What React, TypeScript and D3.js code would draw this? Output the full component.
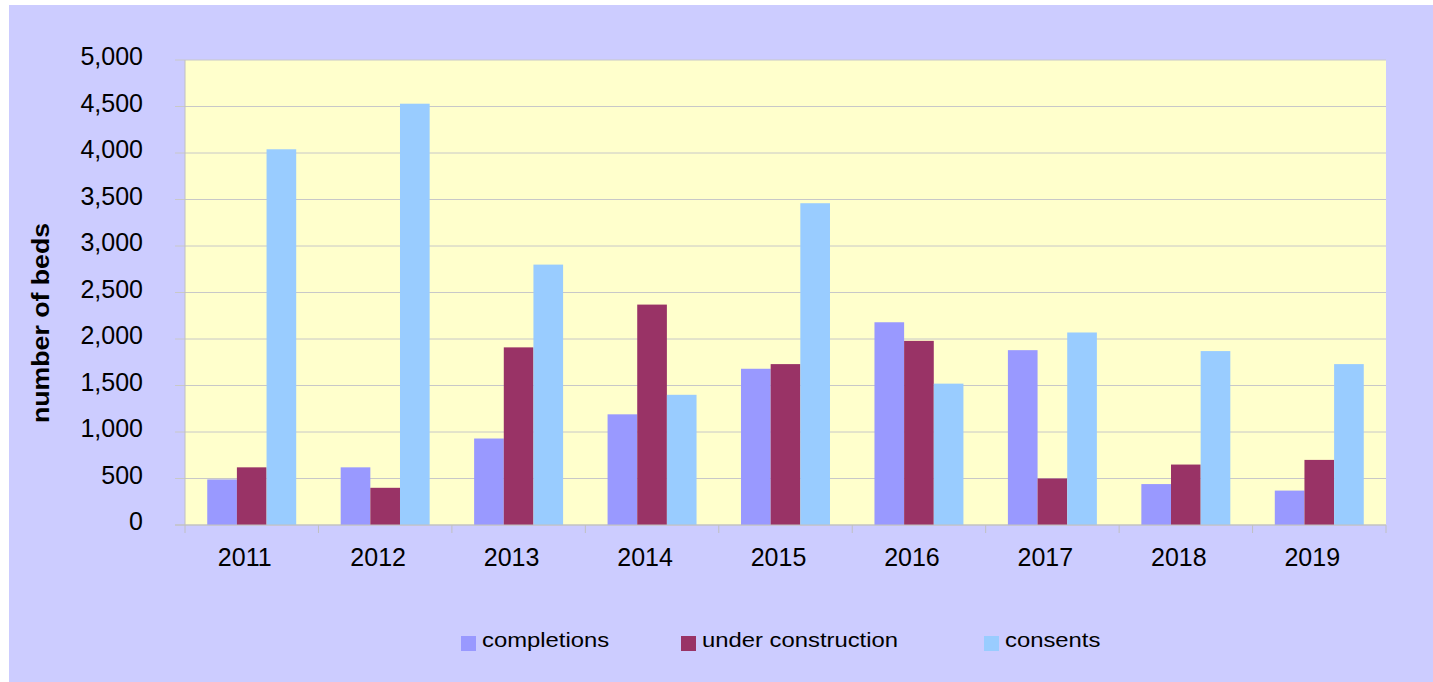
import * as d3 from "d3";

// chart values
const years = ["2011", "2012", "2013", "2014", "2015", "2016", "2017", "2018", "2019"];
const completions = [490, 620, 930, 1190, 1680, 2180, 1880, 440, 370];
const underConstruction = [620, 400, 1910, 2370, 1730, 1980, 500, 650, 700];
const consents = [4040, 4530, 2800, 1400, 3460, 1520, 2070, 1870, 1730];
const yTicks = [0, 500, 1000, 1500, 2000, 2500, 3000, 3500, 4000, 4500, 5000];

const seriesNames = ["completions", "under construction", "consents"];
const seriesColors = ["#9999FF", "#993366", "#99CCFF"];
const seriesValues = [completions, underConstruction, consents];

const W = 1433;
const H = 682;
const left = 185;
const right = 1386;
const top = 60;
const bottom = 525;

export default function App() {
  const x0 = d3.scaleBand<string>().domain(years).range([left, right]).padding(0);
  const x1 = d3
    .scaleBand<string>()
    .domain(seriesNames)
    .range([0, x0.bandwidth()])
    .paddingInner(0)
    .paddingOuter(0.75);
  const y = d3.scaleLinear().domain([0, 5000]).range([bottom, top]);
  const fmt = d3.format(",");

  // legend swatch x positions
  const legendX = [461, 681, 984];

  const font = "'Liberation Sans', Arial, sans-serif";

  return (
    <div style={{ position: "fixed", left: 0, top: 0 }}>
      <svg width={W} height={H} style={{ display: "block", fontFamily: font }}>
        <rect x={0} y={0} width={W} height={H} fill="#ffffff" />
        <rect x={9} y={5} width={W - 9} height={H - 5} fill="#CCCCFF" />
        <rect x={left} y={top} width={right - left} height={bottom - top} fill="#FFFFCC" />

        {/* gridlines and y ticks */}
        {yTicks.map((t) => (
          <g key={t}>
            <line x1={175} x2={right} y1={y(t)} y2={y(t)} stroke="#C8C8C8" strokeWidth={1} />
            <text
              x={143}
              y={y(t) + 5}
              textAnchor="end"
              fontSize={25}
              fill="#000"
            >
              {fmt(t)}
            </text>
          </g>
        ))}
        <line x1={left} x2={left} y1={top} y2={bottom} stroke="#C0C0C0" strokeWidth={1} />

        {/* bars */}
        {years.map((yr, i) => (
          <g key={yr} transform={`translate(${x0(yr)},0)`}>
            {seriesNames.map((s, k) => {
              const v = seriesValues[k][i];
              return (
                <rect
                  key={s}
                  x={x1(s)}
                  y={y(v)}
                  width={x1.bandwidth()}
                  height={y(0) - y(v)}
                  fill={seriesColors[k]}
                />
              );
            })}
          </g>
        ))}

        {/* x axis */}
        <line x1={175} x2={right} y1={bottom} y2={bottom} stroke="#C0C0C0" strokeWidth={1} />
        {[...years.map((yr) => x0(yr) as number), right].map((xx, i) => (
          <line key={i} x1={xx} x2={xx} y1={bottom} y2={bottom + 8} stroke="#C0C0C0" strokeWidth={1} />
        ))}
        {years.map((yr) => (
          <text
            key={yr}
            x={(x0(yr) as number) + x0.bandwidth() / 2 - 7}
            y={566}
            textAnchor="middle"
            fontSize={25}
            fill="#000"
          >
            {yr}
          </text>
        ))}

        {/* y axis title */}
        <text
          transform="translate(49,323) rotate(-90)"
          textAnchor="middle"
          fontSize={24}
          fontWeight="bold"
          textLength={200}
          lengthAdjust="spacingAndGlyphs"
          fill="#000"
        >
          number of beds
        </text>

        {/* legend */}
        {seriesNames.map((s, k) => (
          <g key={s}>
            <rect x={legendX[k]} y={636} width={15} height={15} fill={seriesColors[k]} />
            <text
              transform={`translate(${legendX[k] + 21},647) scale(1.135,1)`}
              fontSize={21}
              fill="#000"
            >
              {s}
            </text>
          </g>
        ))}
      </svg>
    </div>
  );
}
